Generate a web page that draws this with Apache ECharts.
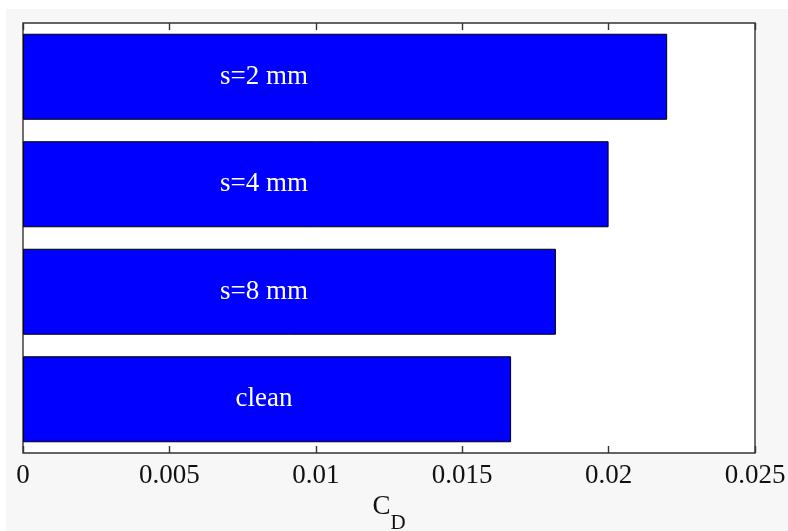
<!DOCTYPE html>
<html>
<head>
<meta charset="utf-8">
<script src="https://cdn.jsdelivr.net/npm/echarts@6/dist/echarts.min.js"></script>
<style>
html,body{margin:0;padding:0;background:#ffffff;}
#chart{width:788px;height:531px;}
</style>
</head>
<body>
<div id="chart"></div>
<script>
const categories = ['s=2 mm', 's=4 mm', 's=8 mm', 'clean'];
const cdValues = [0.0220, 0.0200, 0.0182, 0.01667];
const xTicks = [0, 0.005, 0.01, 0.015, 0.02, 0.025];

const chart = echarts.init(document.getElementById('chart'), null, {renderer: 'canvas'});
const serif = '"Liberation Serif", "DejaVu Serif", serif';

chart.setOption({
  animation: false,
  backgroundColor: 'transparent',
  graphic: [{
    type: 'rect', z: -10, silent: true,
    shape: {x: 6, y: 9, width: 782, height: 522},
    style: {fill: '#f7f7f7'}
  }],
  grid: {
    left: 23, right: 33, top: 23, bottom: 78,
    containLabel: false, outerBoundsMode: 'none',
    show: true, backgroundColor: '#ffffff',
    borderColor: '#333333', borderWidth: 1.4
  },
  xAxis: [{
    type: 'value', position: 'bottom',
    min: xTicks[0], max: xTicks[xTicks.length - 1], interval: 0.005,
    axisLine: {show: false},
    splitLine: {show: false},
    axisTick: {show: true, inside: true, length: 7, lineStyle: {color: '#333', width: 1.4}},
    axisLabel: {
      color: '#111', fontFamily: serif, fontSize: 27, margin: 9,
      formatter: v => { const i = xTicks.findIndex(t => Math.abs(t - v) < 1e-9); return i >= 0 ? String(xTicks[i]) : ''; }
    },
    name: '{c|C}{d|D}',
    nameLocation: 'middle', nameGap: 38,
    nameTextStyle: {
      rich: {
        c: {fontFamily: serif, fontSize: 27, color: '#111', verticalAlign: 'top', lineHeight: 40},
        d: {fontFamily: serif, fontSize: 21, color: '#111', verticalAlign: 'bottom', lineHeight: 40}
      }
    }
  }, {
    type: 'value', position: 'top',
    min: xTicks[0], max: xTicks[xTicks.length - 1], interval: 0.005,
    axisLine: {show: false},
    splitLine: {show: false},
    axisTick: {show: true, inside: true, length: 7, lineStyle: {color: '#333', width: 1.4}},
    axisLabel: {show: false}
  }],
  yAxis: {
    type: 'category', data: categories, inverse: true,
    axisLine: {show: false}, axisTick: {show: false}, axisLabel: {show: false},
    splitLine: {show: false}
  },
  series: [{
    type: 'bar',
    data: cdValues,
    barCategoryGap: '20%',
    itemStyle: {color: '#0000ff', borderColor: '#000000', borderWidth: 1},
    label: {
      show: true,
      position: [241, '50%'],
      align: 'center', verticalAlign: 'middle',
      formatter: p => categories[p.dataIndex],
      color: '#ffffff', fontFamily: serif, fontSize: 27
    }
  }]
});
</script>
</body>
</html>
